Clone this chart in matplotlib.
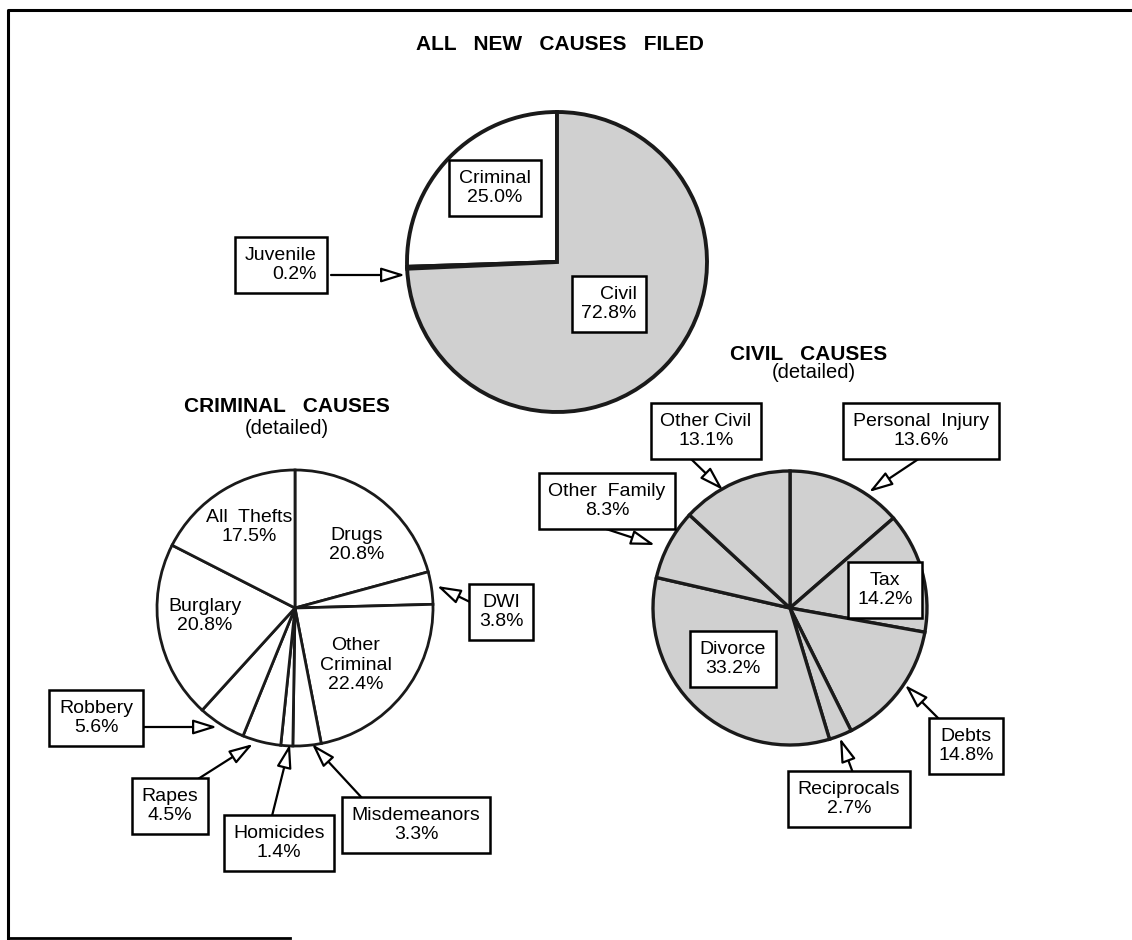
import matplotlib
matplotlib.use("Agg")
from matplotlib import pyplot as plt

plt.rcParams["font.family"] = ["Liberation Sans", "DejaVu Sans"]

# data
all_labels = ["Criminal", "Juvenile", "Civil"]
all_pct = [25.0, 0.2, 72.8]

crim_labels = ["Drugs", "DWI", "Other\nCriminal", "Misdemeanors", "Homicides",
               "Rapes", "Robbery", "Burglary", "All  Thefts"]
crim_pct = [20.8, 3.8, 22.4, 3.3, 1.4, 4.5, 5.6, 20.8, 17.5]

civil_labels = ["Personal  Injury", "Tax", "Debts", "Reciprocals", "Divorce",
                "Other  Family", "Other Civil"]
civil_pct = [13.6, 14.2, 14.8, 2.7, 33.2, 8.3, 13.1]

W, H = 1132, 940
GREY = "#d0d0d0"
EDGE = "#1a1a1a"

fig = plt.figure(figsize=(W / 100, H / 100), dpi=100)
ax = fig.add_axes([0, 0, 1, 1])

# pies (pixel coordinates, y up)
ax.pie(all_pct, colors=["white", "#a0a0a0", GREY], startangle=90,
       counterclock=True, center=(557, 678), radius=150,
       wedgeprops=dict(edgecolor=EDGE, linewidth=2.8))
ax.pie(crim_pct, colors=["white"] * len(crim_pct), startangle=90,
       counterclock=False, center=(295, 332), radius=138,
       wedgeprops=dict(edgecolor=EDGE, linewidth=2.0))
ax.pie(civil_pct, colors=[GREY] * len(civil_pct), startangle=90,
       counterclock=False, center=(790, 332), radius=137,
       wedgeprops=dict(edgecolor=EDGE, linewidth=2.4))

ax.set_xlim(0, W)
ax.set_ylim(0, H)
ax.set_aspect("equal")
ax.axis("off")

# frame (left, top, part of bottom)
ax.plot([8, 8, W], [2, 930, 930], color="black", lw=2.2)
ax.plot([8, 290], [2, 2], color="black", lw=2.0)

# titles
ax.text(560, 895, "ALL   NEW   CAUSES   FILED", ha="center", va="center",
        fontsize=15, fontweight="bold")
ax.text(287, 533, "CRIMINAL   CAUSES", ha="center", va="center",
        fontsize=15, fontweight="bold")
ax.text(287, 512, "(detailed)", ha="center", va="center", fontsize=14.5)
ax.text(809, 586, "CIVIL   CAUSES", ha="center", va="center",
        fontsize=15, fontweight="bold")
ax.text(814, 567, "(detailed)", ha="center", va="center", fontsize=14.5)

box = dict(boxstyle="square,pad=0.5", fc="white", ec="black", lw=1.8)
arrow = dict(arrowstyle="-|>,head_length=1.45,head_width=0.45", fc="white",
             ec="black", lw=1.6, shrinkA=0, shrinkB=0, mutation_scale=10)


def label(lbl, pct, xy, boxed=True, tip=None, start=None, align="center"):
    txt = f"{lbl}\n{pct:.1f}%"
    ax.text(xy[0], xy[1], txt, ha="center", va="center", fontsize=14,
            multialignment=align, linespacing=1.2,
            bbox=box if boxed else None, zorder=5)
    if tip is not None:
        ax.annotate("", xy=tip, xytext=start, arrowprops=arrow, zorder=4)


# layout: label position, arrow tip, arrow start
all_layout = {
    "Criminal": ((495, 752), None, None),
    "Juvenile": ((281, 675), (405, 665), (331, 665)),
    "Civil": ((609, 636), None, None),
}
for lbl, pct in zip(all_labels, all_pct):
    pos, tip, start = all_layout[lbl]
    label(lbl, pct, pos, tip=tip, start=start,
          align="right" if lbl != "Criminal" else "center")

crim_layout = {
    "Drugs": ((357, 395), None, None, False),
    "DWI": ((501, 328), (437, 354), (470, 338), True),
    "Other\nCriminal": ((356, 275), None, None, False),
    "Misdemeanors": ((416, 115), (312, 196), (362, 142), True),
    "Homicides": ((279, 97), (290, 196), (272, 124), True),
    "Rapes": ((170, 134), (253, 196), (198, 161), True),
    "Robbery": ((96, 222), (217, 213), (143, 213), True),
    "Burglary": ((205, 324), None, None, False),
    "All  Thefts": ((249, 413), None, None, False),
}
for lbl, pct in zip(crim_labels, crim_pct):
    pos, tip, start, boxed = crim_layout[lbl]
    label(lbl, pct, pos, boxed=boxed, tip=tip, start=start)

civil_layout = {
    "Personal  Injury": ((921, 509), (869, 448), (920, 482)),
    "Tax": ((885, 350), None, None),
    "Debts": ((966, 194), (905, 255), (940, 220)),
    "Reciprocals": ((849, 141), (840, 202), (853, 167)),
    "Divorce": ((733, 281), None, None),
    "Other  Family": ((607, 439), (655, 395), (600, 413)),
    "Other Civil": ((706, 509), (723, 450), (690, 482)),
}
for lbl, pct in zip(civil_labels, civil_pct):
    pos, tip, start = civil_layout[lbl]
    label(lbl, pct, pos, tip=tip, start=start)

fig.savefig("out.png", dpi=100)
